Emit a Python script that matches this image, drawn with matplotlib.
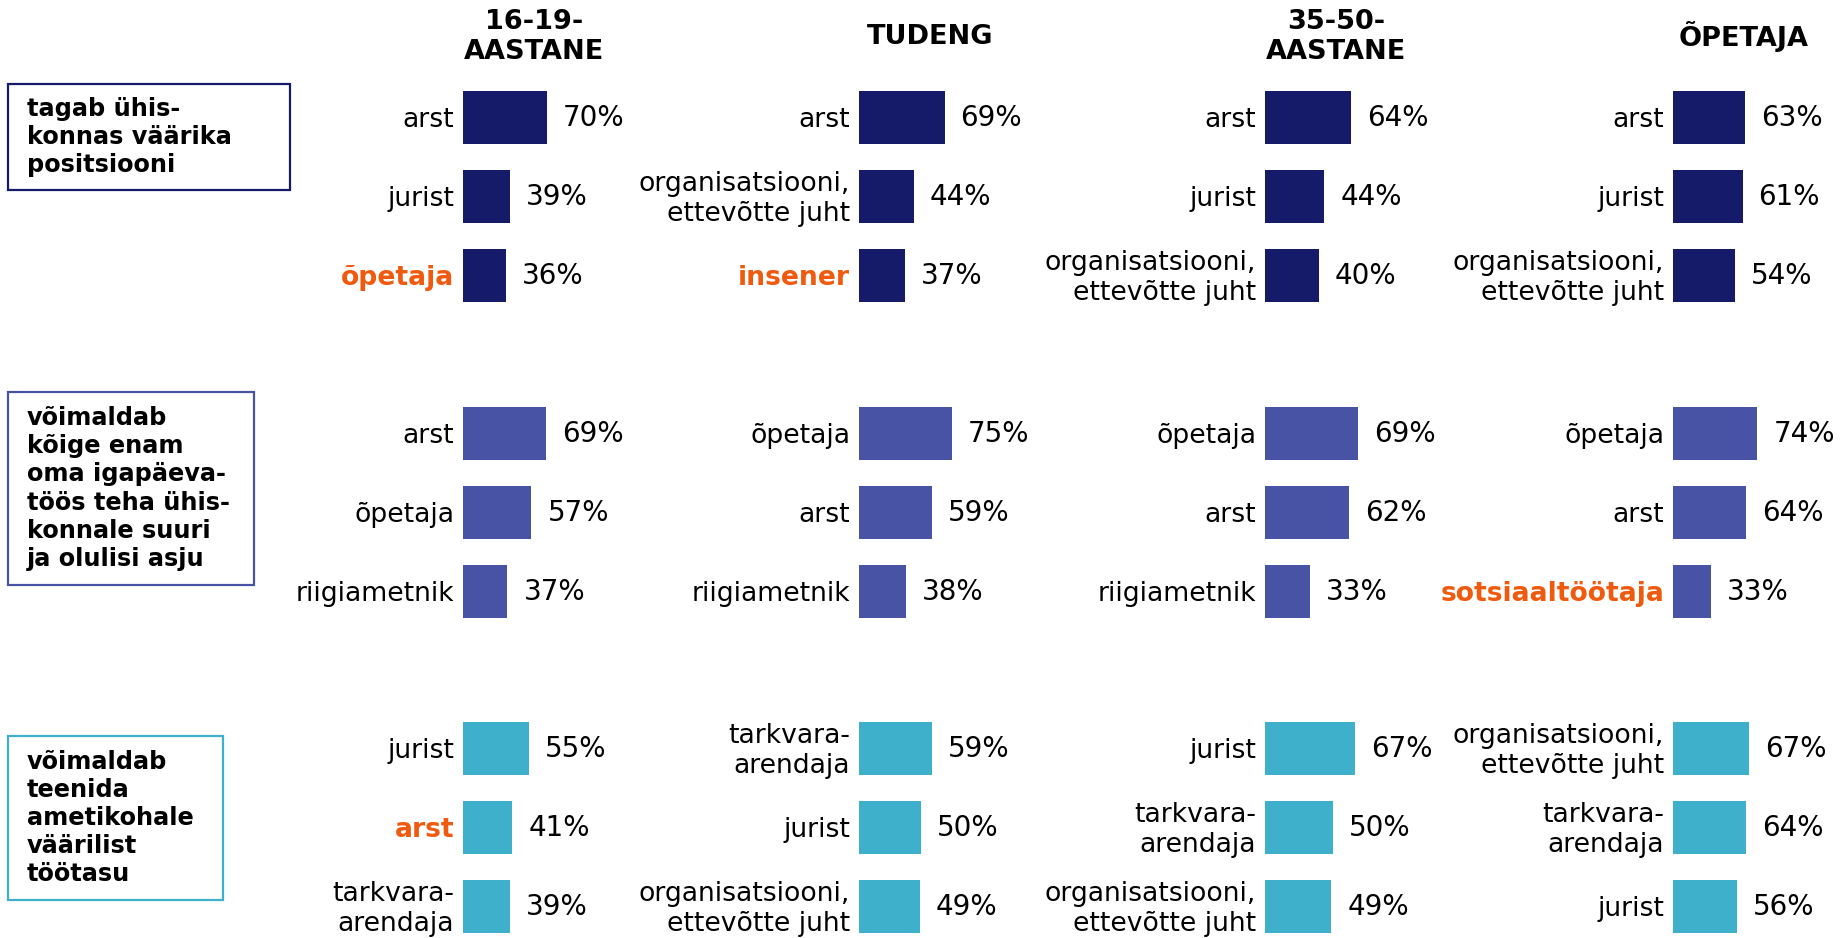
import matplotlib
matplotlib.use("Agg")
import matplotlib.pyplot as plt
from matplotlib.patches import Rectangle

plt.rcParams["font.family"] = ["DejaVu Sans"]

# andmed: 3 väidet x 4 vastajarühma, igas top-3 ametit
GROUPS = ["16-19-\nAASTANE", "TUDENG", "35-50-\nAASTANE", "ÕPETAJA"]
STATEMENTS = [
    "tagab ühis-\nkonnas väärika\npositsiooni",
    "võimaldab\nkõige enam\noma igapäeva-\ntöös teha ühis-\nkonnale suuri\nja olulisi asju",
    "võimaldab\nteenida\nametikohale\nväärilist\ntöötasu",
]
ORG = "organisatsiooni,\nettevõtte juht"
TARK = "tarkvara-\narendaja"

LABELS_1 = [["arst", "jurist", "õpetaja"],
            ["arst", ORG, "insener"],
            ["arst", "jurist", ORG],
            ["arst", "jurist", ORG]]
VALUES_1 = [[70, 39, 36], [69, 44, 37], [64, 44, 40], [63, 61, 54]]

LABELS_2 = [["arst", "õpetaja", "riigiametnik"],
            ["õpetaja", "arst", "riigiametnik"],
            ["õpetaja", "arst", "riigiametnik"],
            ["õpetaja", "arst", "sotsiaaltöötaja"]]
VALUES_2 = [[69, 57, 37], [75, 59, 38], [69, 62, 33], [74, 64, 33]]

LABELS_3 = [["jurist", "arst", TARK],
            [TARK, "jurist", ORG],
            ["jurist", TARK, ORG],
            [ORG, TARK, "jurist"]]
VALUES_3 = [[55, 41, 39], [59, 50, 49], [67, 50, 49], [67, 64, 56]]

# esile tõstetud (väide, rühm, koht)
HIGHLIGHT = [(0, 0, 2), (0, 1, 2), (1, 3, 2), (2, 0, 1)]

LABELS = [LABELS_1, LABELS_2, LABELS_3]
VALUES = [VALUES_1, VALUES_2, VALUES_3]
COLORS = ["#151b69", "#4953a6", "#3fb0cc"]
ORANGE = "#f05a0f"

W, H = 1847, 938
fig = plt.figure(figsize=(W / 100, H / 100), dpi=100)
ax = fig.add_axes([0, 0, 1, 1])
ax.set_xlim(0, W)
ax.set_ylim(H, 0)
ax.axis("off")

col_x = [463, 859, 1265, 1673]
# igal veerul oma mõõtkava (px protsendipunkti kohta), nagu originaalis
col_scale = [1.2, 1.24, 1.35, 1.14]
row0 = [118, 434, 749]
pitch = 79
bar_h = 53
boxes = [(8, 84, 282, 106), (8, 392, 246, 193), (8, 736, 215, 164)]

for gi, gname in enumerate(GROUPS):
    ax.text(col_x[gi] + 71, 37, gname, ha="center", va="center",
            fontsize=19.5, fontweight="bold", linespacing=1.2)

for si in range(3):
    bx, by, bw, bh = boxes[si]
    ax.add_patch(Rectangle((bx, by), bw, bh, fill=False, ec=COLORS[si], lw=1.6))
    ax.text(bx + 19, by + bh / 2, STATEMENTS[si], ha="left", va="center",
            fontsize=17.3, fontweight="bold", linespacing=1.22)
    for gi in range(4):
        ys = [row0[si] + k * pitch for k in range(3)]
        ws = [v * col_scale[gi] for v in VALUES[si][gi]]
        ax.barh(ys, ws, left=col_x[gi], height=bar_h, color=COLORS[si])
        for k in range(3):
            hl = (si, gi, k) in HIGHLIGHT
            ax.text(col_x[gi] - 9, ys[k] + 2, LABELS[si][gi][k], ha="right", va="center",
                    multialignment="right", fontsize=19.2, linespacing=1.2,
                    color=ORANGE if hl else "black",
                    fontweight="bold" if hl else "normal")
            ax.text(col_x[gi] + ws[k] + 16, ys[k], f"{VALUES[si][gi][k]}%",
                    ha="left", va="center", fontsize=20)

fig.savefig("out.png", dpi=100)
